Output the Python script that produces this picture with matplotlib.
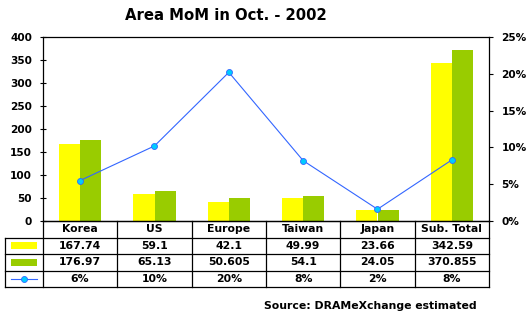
import matplotlib
matplotlib.use("Agg")
import matplotlib.pyplot as plt
from matplotlib.patches import Rectangle
from matplotlib.lines import Line2D
from matplotlib.ticker import FuncFormatter

categories = ["Korea", "US", "Europe", "Taiwan", "Japan", "Sub. Total"]
sep_vals = [167.74, 59.1, 42.1, 49.99, 23.66, 342.59]
oct_vals = [176.97, 65.13, 50.605, 54.1, 24.05, 370.855]
mom_pct = [5.5, 10.2, 20.2, 8.2, 1.6, 8.3]
sep_labels = ["167.74", "59.1", "42.1", "49.99", "23.66", "342.59"]
oct_labels = ["176.97", "65.13", "50.605", "54.1", "24.05", "370.855"]
pct_labels = ["6%", "10%", "20%", "8%", "2%", "8%"]

YELLOW = "#FFFF00"
GREEN = "#99CC00"
LINE = "#3366FF"
MARK = "#00CCFF"

plt.rcParams["font.family"] = ["DejaVu Sans"]
plt.rcParams["font.weight"] = "bold"

W, H = 532, 322
fig = plt.figure(figsize=(W / 100, H / 100), dpi=100)
fig.patch.set_facecolor("white")

def px(x0, y0, x1, y1):
    return [x0 / W, 1 - y1 / H, (x1 - x0) / W, (y1 - y0) / H]

ax = fig.add_axes(px(43, 37, 489, 221))
n = len(categories)
xs = list(range(n))
bw = 0.285
ax.bar([x - bw / 2 for x in xs], sep_vals, width=bw, color=YELLOW, zorder=2)
ax.bar([x + bw / 2 for x in xs], oct_vals, width=bw, color=GREEN, zorder=2)
ax.set_xlim(-0.5, n - 0.5)
ax.set_ylim(0, 400)
ax.set_yticks(range(0, 401, 50))
ax.set_xticks([])
ax.tick_params(axis="y", direction="inout", length=4, width=0.8, labelsize=7.6, pad=6)
for lab in ax.get_yticklabels():
    lab.set_fontweight("bold")
for s in ax.spines.values():
    s.set_linewidth(0.9)
    s.set_color("black")

ax2 = ax.twinx()
ax2.plot(xs, mom_pct, color=LINE, lw=0.8, marker="o", markersize=4.3,
         markerfacecolor=MARK, markeredgecolor=LINE, markeredgewidth=0.6, zorder=3)
ax2.set_ylim(0, 25)
ax2.set_yticks(range(0, 26, 5))
ax2.yaxis.set_major_formatter(FuncFormatter(lambda v, p: f"{int(v)}%"))
ax2.tick_params(axis="y", direction="out", length=3, width=0.8, labelsize=7.6, pad=6)
for lab in ax2.get_yticklabels():
    lab.set_fontweight("bold")
for s in ax2.spines.values():
    s.set_visible(False)

# data table
leg_w = 38 / 74.33
tab = fig.add_axes(px(5, 221, 489, 287))
tab.set_xlim(-0.5 - leg_w, n - 0.5)
tab.set_ylim(0, 4)
tab.axis("off")
xl = -0.5 - leg_w
lk = dict(color="black", lw=0.9, clip_on=False)
for yy in [0, 1, 2, 3]:
    tab.plot([xl, n - 0.5], [yy, yy], **lk)
tab.plot([-0.5, n - 0.5], [4, 4], **lk)
tab.plot([xl, xl], [0, 3], **lk)
for i in range(n + 1):
    tab.plot([i - 0.5, i - 0.5], [0, 4], **lk)

fs = 7.8
for i, c in enumerate(categories):
    tab.text(i, 3.5, c, ha="center", va="center", fontsize=fs, fontweight="bold")
    tab.text(i, 2.5, sep_labels[i], ha="center", va="center", fontsize=fs, fontweight="bold")
    tab.text(i, 1.5, oct_labels[i], ha="center", va="center", fontsize=fs, fontweight="bold")
    tab.text(i, 0.5, pct_labels[i], ha="center", va="center", fontsize=fs, fontweight="bold")

lc = xl + leg_w / 2
sw = 26 / 74.33
sh = 0.42
tab.add_patch(Rectangle((lc - sw / 2, 2.5 - sh / 2), sw, sh, color=YELLOW, lw=0))
tab.add_patch(Rectangle((lc - sw / 2, 1.5 - sh / 2), sw, sh, color=GREEN, lw=0))
tab.plot([lc - sw / 2, lc + sw / 2], [0.5, 0.5], color=LINE, lw=0.8)
tab.plot([lc], [0.5], marker="o", markersize=4.3, markerfacecolor=MARK,
         markeredgecolor=LINE, markeredgewidth=0.6)

fig.text(226 / W, 1 - 15 / H, "Area MoM in Oct. - 2002", ha="center", va="center",
         fontsize=10.7, fontweight="bold")
fig.text(477 / W, 1 - 306 / H, "Source: DRAMeXchange estimated", ha="right", va="center",
         fontsize=7.8, fontweight="bold")

fig.savefig("out.png", dpi=100, facecolor="white")
